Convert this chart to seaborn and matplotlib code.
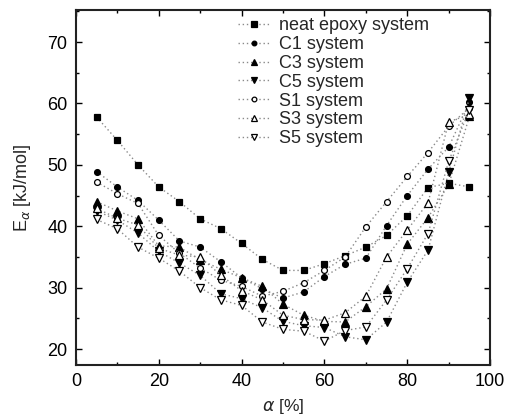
import matplotlib
matplotlib.use("Agg")
import matplotlib.pyplot as plt
import seaborn as sns
import pandas as pd
from matplotlib.ticker import MultipleLocator

sns.set_theme(style="ticks")
plt.rcParams['font.family'] = ['Liberation Sans', 'DejaVu Sans']
plt.rcParams['mathtext.fontset'] = 'dejavusans'

alpha = [5, 10, 15, 20, 25, 30, 35, 40, 45, 50, 55, 60, 65, 70, 75, 80, 85, 90, 95]

neat = [57.8, 54.0, 50.0, 46.4, 44.0, 41.2, 39.6, 37.2, 34.6, 32.8, 32.8, 33.9, 35.2, 36.6, 38.5, 41.7, 46.3, 47.0, 46.4]
c1 = [48.9, 46.4, 44.2, 41.0, 37.6, 36.6, 34.2, 31.6, 29.8, 28.3, 29.3, 31.8, 33.8, 34.8, 40.1, 45.0, 49.3, 52.9, 60.2]
c3 = [44.0, 42.5, 41.2, 36.8, 36.6, 34.5, 33.0, 31.6, 30.2, 27.3, 25.5, 24.5, 24.4, 26.9, 29.8, 37.1, 41.4, 46.8, 57.9]
c5 = [42.5, 41.0, 38.9, 35.9, 34.0, 32.0, 29.0, 28.2, 26.7, 24.5, 23.8, 23.5, 22.0, 21.5, 24.4, 30.9, 36.1, 48.8, 60.9]
s1 = [47.2, 45.3, 43.7, 38.5, 35.6, 33.2, 31.2, 30.2, 28.6, 29.4, 30.8, 32.8, 35.0, 39.9, 44.0, 48.1, 52.0, 56.3, 59.3]
s3 = [42.9, 41.3, 40.2, 36.4, 35.3, 35.0, 32.0, 29.5, 28.0, 25.5, 24.8, 24.7, 25.9, 28.6, 35.0, 39.4, 43.8, 57.0, 58.2]
s5 = [41.1, 39.6, 36.6, 34.8, 32.7, 30.0, 28.0, 27.1, 24.4, 23.2, 22.9, 21.3, 23.0, 23.6, 28.0, 33.1, 38.8, 50.6, 59.0]

labels = ["neat epoxy system", "C1 system", "C3 system", "C5 system",
          "S1 system", "S3 system", "S5 system"]
series = [neat, c1, c3, c5, s1, s3, s5]
markers = ['s', 'o', '^', 'v', 'o', '^', 'v']
filled = [True, True, True, True, False, False, False]
msizes = [4.6, 4.2, 5.2, 5.2, 4.2, 5.2, 5.2]

fig = plt.figure(figsize=(5.09, 4.20), dpi=100)
ax = fig.add_axes([0.149, 0.131, 0.814, 0.845])

for lab, vals, m, f, ms in zip(labels, series, markers, filled, msizes):
    df = pd.DataFrame({"alpha": alpha, "E": vals})
    sns.lineplot(data=df, x="alpha", y="E", ax=ax, label=lab,
                 color="#8a8a8a", linestyle=(0, (1, 2)), linewidth=1.0,
                 marker=m, markersize=ms,
                 markerfacecolor="black" if f else "white",
                 markeredgecolor="black", markeredgewidth=0.9)

ax.set_xlim(0, 100)
ax.set_ylim(17.4, 75.2)
ax.xaxis.set_major_locator(MultipleLocator(20))
ax.xaxis.set_minor_locator(MultipleLocator(10))
ax.yaxis.set_major_locator(MultipleLocator(10))
ax.yaxis.set_minor_locator(MultipleLocator(5))
ax.tick_params(which='both', direction='in', top=True, right=True,
               labelsize=13, colors='black', width=1.0)
ax.tick_params(which='major', length=4, pad=6)
ax.tick_params(which='minor', length=2.5)
for sp in ax.spines.values():
    sp.set_linewidth(1.5)
    sp.set_color('#222222')

ax.set_xlabel(r"$\alpha$ [%]", fontsize=12.5, labelpad=5)
ax.set_ylabel(r"E$_\alpha$ [kJ/mol]", fontsize=13, labelpad=10)

leg = ax.legend(loc='upper left', bbox_to_anchor=(0.365, 1.01), frameon=False,
                fontsize=13, labelspacing=0.1, handlelength=1.8,
                handletextpad=0.5, borderaxespad=0.2, markerscale=0.8)

fig.savefig("out.png", dpi=100)
